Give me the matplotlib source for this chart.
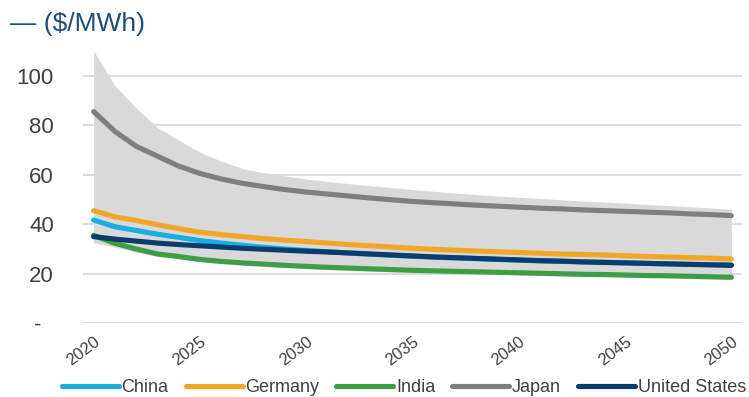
import matplotlib
matplotlib.use("Agg")
import matplotlib.pyplot as plt

plt.rcParams['font.family'] = ['Liberation Sans', 'DejaVu Sans']

years = list(range(2020, 2051))

china = [41.7, 39.0, 37.5, 36.0, 34.7, 33.4, 32.4, 31.5, 30.7, 30.0, 29.4,
         28.9, 28.4, 27.9, 27.5, 27.1, 26.7, 26.4, 26.1, 25.8, 25.5,
         25.2, 25.0, 24.8, 24.6, 24.4, 24.2, 24.0, 23.8, 23.7, 23.6]
germany = [45.5, 43.0, 41.5, 39.8, 38.2, 36.8, 35.8, 35.0, 34.2, 33.6, 33.0,
           32.4, 31.8, 31.3, 30.8, 30.3, 29.9, 29.5, 29.2, 28.9, 28.6,
           28.3, 28.0, 27.8, 27.6, 27.3, 27.0, 26.8, 26.5, 26.3, 26.0]
india = [35.5, 32.3, 30.0, 28.0, 27.0, 25.8, 25.0, 24.4, 23.9, 23.4, 23.0,
         22.6, 22.3, 22.0, 21.7, 21.4, 21.2, 21.0, 20.8, 20.6, 20.4,
         20.2, 20.0, 19.8, 19.7, 19.5, 19.3, 19.2, 19.0, 18.8, 18.6]
japan = [85.5, 77.5, 71.5, 67.5, 63.5, 60.5, 58.3, 56.5, 55.2, 54.0, 53.0,
         52.2, 51.4, 50.6, 49.9, 49.2, 48.7, 48.2, 47.7, 47.3, 46.9,
         46.5, 46.2, 45.8, 45.5, 45.2, 44.9, 44.6, 44.2, 43.9, 43.5]
united_states = [35.0, 34.0, 33.2, 32.4, 31.8, 31.3, 30.8, 30.3, 29.9, 29.5, 29.1,
                 28.8, 28.4, 28.0, 27.6, 27.2, 26.8, 26.5, 26.2, 25.9, 25.6,
                 25.3, 25.1, 24.8, 24.6, 24.4, 24.2, 24.0, 23.8, 23.6, 23.4]
band_upper = [110.0, 96.0, 87.0, 79.0, 74.0, 69.0, 65.5, 62.5, 60.8, 59.5, 58.3,
              57.3, 56.4, 55.6, 54.8, 54.0, 53.3, 52.6, 52.0, 51.4, 50.9,
              50.4, 49.9, 49.4, 49.0, 48.5, 48.0, 47.6, 47.1, 46.6, 46.1]
band_lower = [32.5, 30.7, 28.8, 27.0, 26.0, 24.9, 24.1, 23.5, 23.0, 22.5, 22.1,
              21.7, 21.4, 21.1, 20.8, 20.5, 20.3, 20.1, 19.9, 19.7, 19.5,
              19.3, 19.1, 18.9, 18.8, 18.6, 18.4, 18.3, 18.1, 17.9, 17.7]

series_names = ["China", "Germany", "India", "Japan", "United States"]
series_values = [china, germany, india, japan, united_states]
series_colors = ["#19AEE2", "#F2A626", "#3E9E46", "#7F7F7F", "#0B3C6E"]

xtick_years = [2020, 2025, 2030, 2035, 2040, 2045, 2050]
ytick_values = [0, 20, 40, 60, 80, 100]
ytick_labels = ["-  ", "20", "40", "60", "80", "100"]

W, H = 749, 397
fig = plt.figure(figsize=(W / 100, H / 100), dpi=100)
ax = fig.add_axes([83 / W, 1 - 323.3 / H, (742 - 83) / W, (323.3 - 41) / H])

ax.fill_between(years, band_lower, band_upper, color="#D9D9D9", lw=0, zorder=1)
for name, vals, col in zip(series_names, series_values, series_colors):
    ax.plot(years, vals, color=col, lw=3.7, solid_capstyle="round",
            solid_joinstyle="round", label=name, zorder=3)

ax.set_xlim(2019.5, 2050.5)
ax.set_ylim(0, 114)
ax.set_yticks(ytick_values)
ax.set_yticklabels(ytick_labels, fontsize=16, color="#404040")
ax.set_xticks(xtick_years)
ax.set_xticklabels([str(y) for y in xtick_years], fontsize=12, color="#404040",
                   rotation=37, rotation_mode="anchor", ha="right", va="top")
ax.tick_params(axis="both", length=0)
ax.tick_params(axis="y", pad=21)
ax.tick_params(axis="x", pad=8)
ax.grid(axis="y", color="#D9D9D9", lw=1.3)
ax.set_axisbelow(True)
for s in ax.spines.values():
    s.set_visible(False)

fig.text(10 / W, 1 - 24 / H, "— ($/MWh)", fontsize=19, color="#1F4E79",
         ha="left", va="center")

fig.legend(loc="center", bbox_to_anchor=(404 / W, 1 - 388 / H), ncol=5,
           frameon=False, fontsize=13, handlelength=3.15, handletextpad=0.15,
           columnspacing=0.95, borderaxespad=0, borderpad=0,
           labelcolor="#404040")

fig.savefig("out.png", dpi=100)
